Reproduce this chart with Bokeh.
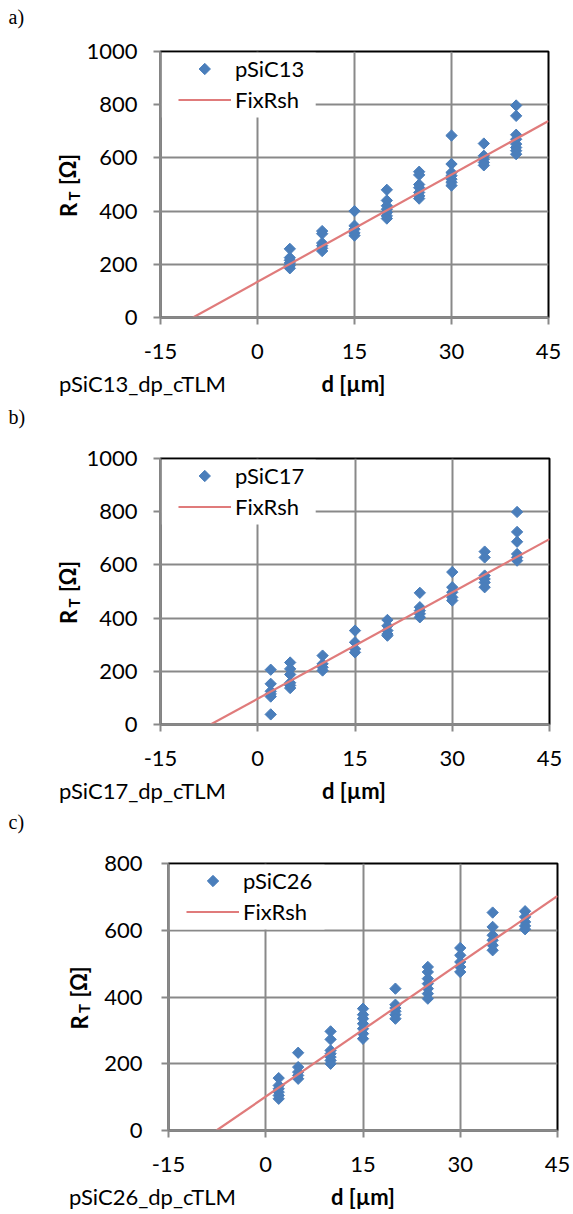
import math
from bokeh.plotting import figure
from bokeh.models import Range1d, FixedTicker, Label, Legend, LegendItem, BoxAnnotation
from bokeh.layouts import column, row
from bokeh.embed import file_html
from bokeh.resources import INLINE

# ---------------- data ----------------
x_ticks = [-15, 0, 15, 30, 45]

# a) pSiC13
a_sample = "pSiC13"
a_d = [5, 10, 15, 20, 25, 30, 35, 40]
a_rt = [
    [258, 225, 215, 205, 195, 185],
    [325, 315, 280, 270, 260, 250],
    [400, 345, 332, 318, 308],
    [480, 440, 420, 407, 395, 382, 372],
    [548, 536, 500, 488, 470, 457, 447],
    [684, 577, 545, 533, 520, 508, 496],
    [654, 608, 595, 583, 572],
    [797, 758, 687, 670, 652, 639, 627, 614],
]
a_fit = [13.44, 134.0]  # slope, intercept
a_yticks = [0, 200, 400, 600, 800, 1000]

# b) pSiC17
b_sample = "pSiC17"
b_d = [2, 5, 10, 15, 20, 25, 30, 35, 40]
b_rt = [
    [206, 153, 125, 115, 105, 38],
    [233, 209, 188, 157, 147, 137],
    [259, 228, 215, 203],
    [353, 309, 284, 271],
    [393, 371, 353, 340, 334],
    [495, 441, 428, 416, 403],
    [573, 516, 497, 478, 466],
    [650, 628, 560, 547, 534, 516],
    [799, 724, 687, 641, 628, 616],
]
b_fit = [13.33, 97.0]
b_yticks = [0, 200, 400, 600, 800, 1000]

# c) pSiC26
c_sample = "pSiC26"
c_d = [2, 5, 10, 15, 20, 25, 30, 35, 40]
c_rt = [
    [157, 135, 125, 115, 105, 95],
    [233, 190, 175, 165, 155],
    [297, 273, 240, 230, 220, 210, 200],
    [365, 347, 335, 320, 305, 290, 275],
    [425, 377, 367, 357, 347, 335],
    [490, 475, 455, 440, 425, 410, 395],
    [547, 525, 505, 490, 475],
    [653, 610, 585, 570, 555, 540],
    [657, 640, 625, 613, 603],
]
c_fit = [13.36, 101.6]
c_yticks = [0, 200, 400, 600, 800]

fit_name = "FixRsh"
x_title = "d [\u00b5m]"
y_title_parts = ["R", "T", "[\u03a9]"]
name_suffix = "_dp_cTLM"

# ---------------- style ----------------
FONT = "Lato"
SERIF = "Liberation Serif"
GRID = "#898989"
BLUE = "#4A7EBB"
RED = "#E07B7B"
PAGE_W = 573
# distance from text centre ("middle") to alphabetic baseline
MID22 = 8.5
MID15 = 5.8
MID20S = 6.75


def blank(w, h, top=0, bottom=0, yspan=None):
    """Text-only figure without axes; data units are pixels."""
    s = figure(width=w, height=h, x_range=Range1d(0, w),
               y_range=Range1d(0, yspan if yspan is not None else h),
               output_backend="svg", toolbar_location=None,
               min_border_left=0, min_border_right=0,
               min_border_top=top, min_border_bottom=bottom,
               x_axis_type=None, y_axis_type=None)
    s.outline_line_color = None
    s.background_fill_color = "white"
    s.border_fill_color = "white"
    return s


def lab(fig, x, y, text, size="22px", font=FONT, style="normal",
        align="left", angle=0.0):
    fig.add_layout(Label(x=x, y=y, text=text, text_font=font,
                         text_font_size=size, text_font_style=style,
                         text_align=align, text_baseline="middle",
                         angle=angle, text_color="black"))


def text_strip(page_top, h, items):
    s = blank(PAGE_W, h)
    for kind, x, base, text in items:
        yc = base - page_top  # baseline, px from strip top
        if kind == "tag":
            lab(s, x, h - (yc - MID20S), text, size="20px", font=SERIF)
        elif kind == "name":
            lab(s, x, h - (yc - MID22), text)
        else:
            lab(s, x, h - (yc - MID22), text, style="bold", align="center")
    return s


def main_plot(sample, dists, rts, fit, yticks, width, height, left, frame_w,
              top, frame_h, ystd):
    ymax = yticks[-1]
    xmin, xmax = x_ticks[0], x_ticks[-1]
    p = figure(width=width, height=height, output_backend="svg",
               toolbar_location=None,
               x_range=Range1d(xmin, xmax), y_range=Range1d(0, ymax),
               min_border_left=left, min_border_right=width - left - frame_w,
               min_border_top=top, min_border_bottom=height - top - frame_h)
    p.background_fill_color = "white"
    p.border_fill_color = "white"
    p.outline_line_color = "black"
    p.outline_line_width = 2

    p.xaxis.ticker = FixedTicker(ticks=x_ticks)
    p.yaxis.ticker = FixedTicker(ticks=yticks)
    p.xaxis.major_label_overrides = {t: str(t) for t in x_ticks}
    for ax in (p.xaxis, p.yaxis):
        ax.axis_line_color = GRID
        ax.axis_line_width = 2
        ax.major_tick_line_color = GRID
        ax.major_tick_line_width = 2
        ax.major_tick_out = 7
        ax.major_tick_in = 0
        ax.minor_tick_line_color = None
        ax.major_label_text_font = FONT
        ax.major_label_text_font_size = "22px"
        ax.major_label_text_color = "black"
    p.xaxis.major_label_standoff = 19
    p.yaxis.major_label_standoff = ystd

    p.xgrid.ticker = FixedTicker(ticks=x_ticks[1:-1])
    p.ygrid.ticker = FixedTicker(ticks=yticks[1:-1])
    p.grid.grid_line_color = GRID
    p.grid.grid_line_width = 2

    px_x = frame_w / (xmax - xmin)
    px_y = frame_h / ymax

    # white legend box, starting at the plot edge like Excel's
    p.add_layout(BoxAnnotation(left=xmin + 1.2 / px_x, right=xmin + 156 / px_x,
                               top=ymax - 1.2 / px_y, bottom=ymax - 66 / px_y,
                               fill_color="white", fill_alpha=1.0,
                               line_alpha=0, level="underlay"))

    xs = [d for d, grp in zip(dists, rts) for _ in grp]
    ys = [v for grp in rts for v in grp]
    mk = dict(marker="square", angle=math.pi / 4, size=8, fill_color=BLUE,
              line_color=BLUE, line_width=1)
    p.scatter(xs, ys, **mk)
    slope, icpt = fit
    x0 = -icpt / slope
    lx = [x0, xmax]
    ly = [slope * x + icpt for x in lx]
    r_ln = p.line(lx, ly, line_color=RED, line_width=2.2)

    # legend key diamond (Bokeh legends do not rotate markers)
    leg_x, pad, gw = 14, 4, 53
    p.scatter([xmin + (leg_x + pad + gw / 2) / px_x], [ymax - 17.5 / px_y], **mk)
    r_key = p.scatter([], [], marker="square", fill_alpha=0, line_alpha=0)
    legend = Legend(items=[LegendItem(label=sample, renderers=[r_key]),
                           LegendItem(label=fit_name, renderers=[r_ln])],
                    location=(leg_x, frame_h - 66), padding=pad, spacing=4,
                    glyph_width=gw, glyph_height=27, label_height=27,
                    label_standoff=4, label_text_font=FONT,
                    label_text_font_size="22px", label_text_color="black",
                    border_line_alpha=0, background_fill_alpha=0, margin=0)
    p.add_layout(legend)
    return p


def plot_row(sample, dists, rts, fit, yticks, row_h, strip_w, frame_left,
             frame_w, top, frame_h, r_base, t_base, ystd):
    main_w = PAGE_W - strip_w
    left = frame_left - strip_w
    bottom = row_h - top - frame_h
    m = main_plot(sample, dists, rts, fit, yticks, main_w, row_h, left,
                  frame_w, top, frame_h, ystd)
    # y-title strip; its frame lines up with the plot frame (y up, px)
    ls = blank(strip_w, row_h, top=top, bottom=bottom, yspan=frame_h)
    mid = frame_h / 2
    r_txt, t_txt, o_txt = y_title_parts
    rx = frame_left + r_base - MID22
    lab(ls, rx, mid - 32.5, r_txt, style="bold", angle=math.pi / 2)
    lab(ls, frame_left + t_base - MID15, mid - 16, t_txt, size="15px",
        style="bold", angle=math.pi / 2)
    lab(ls, rx - 0.5, mid - 0.5, o_txt, style="bold", angle=math.pi / 2)
    return row(ls, m, spacing=0)


ra = plot_row(a_sample, a_d, a_rt, a_fit, a_yticks, row_h=339, strip_w=83,
              frame_left=158, frame_w=390, top=19, frame_h=266,
              r_base=-82, t_base=-79, ystd=16)
rb = plot_row(b_sample, b_d, b_rt, b_fit, b_yticks, row_h=346, strip_w=83,
              frame_left=158, frame_w=391, top=26, frame_h=266,
              r_base=-82, t_base=-79, ystd=16)
rc = plot_row(c_sample, c_d, c_rt, c_fit, c_yticks, row_h=346, strip_w=94,
              frame_left=168, frame_w=389, top=25, frame_h=267,
              r_base=-81, t_base=-78.5, ystd=19)

s0 = text_strip(0, 32, [("tag", 8, 23.5, "a)")])
s1 = text_strip(371, 61, [("name", 158 - 99.5, 391, a_sample + name_suffix),
                          ("axis", 158 + 390 / 2, 391, x_title),
                          ("tag", 8, 423.5, "b)")])
s2 = text_strip(778, 60, [("name", 158 - 99.5, 798, b_sample + name_suffix),
                          ("axis", 158 + 391 / 2, 798, x_title),
                          ("tag", 8, 828, "c)")])
s3 = text_strip(1184, 30, [("name", 168 - 99.5, 1204, c_sample + name_suffix),
                           ("axis", 168 + 389 / 2, 1204, x_title)])

layout = column(s0, ra, s1, rb, s2, rc, s3, spacing=0)
open("out.html", "w").write(file_html(layout, INLINE))
